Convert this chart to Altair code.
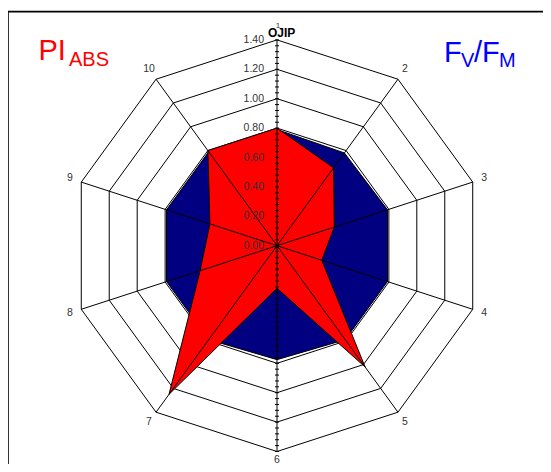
import altair as alt
import numpy as np
import pandas as pd

# ---- data ----
axis_names = ["1", "2", "3", "4", "5", "6", "7", "8", "9", "10"]
pi_abs = [0.80, 0.655, 0.41, 0.32, 1.02, 0.29, 1.25, 0.55, 0.48, 0.80]
fv_fm = [0.79, 0.78, 0.79, 0.79, 0.79, 0.775, 0.79, 0.79, 0.79, 0.79]
ring_levels = [0.2, 0.4, 0.6, 0.8, 1.0, 1.2, 1.4]
tick_values = [0.0, 0.2, 0.4, 0.6, 0.8, 1.0, 1.2, 1.4]
tick_labels = ["0.00", "0.20", "0.40", "0.60", "0.80", "1.00", "1.20", "1.40"]
r_max = 1.4

# ---- geometry helpers ----
K = 147.0            # pixels per unit of radius
W, H = 535, 456
CX, CY = 269.0, 237.7
xs = alt.Scale(domain=[-CX / K, (W - CX) / K], nice=False, zero=False)
ys = alt.Scale(domain=[-(H - CY) / K, CY / K], nice=False, zero=False)
n = len(axis_names)
ang = np.deg2rad(np.arange(n) * 360.0 / n)


def polygon(values):
    return pd.DataFrame({
        "idx": np.arange(n),
        "x": np.array(values) * np.sin(ang),
        "y": np.array(values) * np.cos(ang),
    })


rings_rows = []
for lv in ring_levels:
    for i in range(n + 1):
        a = ang[i % n]
        rings_rows.append({"level": lv, "idx": i, "x": lv * np.sin(a), "y": lv * np.cos(a)})
rings_df = pd.DataFrame(rings_rows)

spokes_df = pd.DataFrame({
    "x0": 0.0, "y0": 0.0,
    "x": r_max * np.sin(ang), "y": r_max * np.cos(ang),
})

lab_r = r_max + 12 / K
labels_df = pd.DataFrame({
    "name": axis_names,
    "x": lab_r * np.sin(ang),
    "y": lab_r * np.cos(ang),
})
# labels 1 (top, beside the OJIP title) and 6 (bottom edge) are placed separately
labels_df = labels_df[~labels_df["name"].isin([axis_names[0], axis_names[5]])]

minor = np.round(np.arange(-r_max, r_max + 1e-9, 0.04), 2)
minor_df = pd.DataFrame({"x": 0.0, "y": minor})

ticklab_df = pd.DataFrame({"x": 0.0, "y": tick_values, "t": tick_labels})

X = lambda f="x": alt.X(f"{f}:Q", scale=xs, axis=None)
Y = lambda f="y": alt.Y(f"{f}:Q", scale=ys, axis=None)
FONT = "Liberation Sans"

rings = alt.Chart(rings_df).mark_line(stroke="black", strokeWidth=1).encode(
    x=X(), y=Y(), detail="level:N", order="idx:Q")

blue = alt.Chart(polygon(fv_fm)).mark_line(
    interpolate="linear-closed", fill="#000080", stroke="black", strokeWidth=1
).encode(x=X(), y=Y(), order="idx:Q")

red = alt.Chart(polygon(pi_abs)).mark_line(
    interpolate="linear-closed", fill="#ff0000", stroke="black", strokeWidth=1
).encode(x=X(), y=Y(), order="idx:Q")

spokes = alt.Chart(spokes_df).mark_rule(stroke="black", strokeWidth=1).encode(
    x=X("x0"), y=Y("y0"), x2="x:Q", y2="y:Q")

minor_ticks = alt.Chart(minor_df).mark_point(
    shape="M-1,0L1,0", size=16, filled=False, stroke="black", strokeWidth=1, opacity=1
).encode(x=X(), y=Y())

center = alt.Chart(pd.DataFrame({"x": [0.0], "y": [0.0]})).mark_point(
    filled=True, color="black", size=14, opacity=1).encode(x=X(), y=Y())

tick_text = alt.Chart(ticklab_df).mark_text(
    align="right", baseline="middle", dx=-13, fontSize=10.5, font=FONT, color="#333333"
).encode(x=X(), y=Y(), text="t:N")

axis_text = alt.Chart(labels_df).mark_text(
    align="center", baseline="middle", fontSize=10.5, font=FONT, color="#333333"
).encode(x=X(), y=Y(), text="name:N")

one = pd.DataFrame({"a": [0]})


def txt(s, x, y, size, color, weight="normal", align="left", baseline="alphabetic"):
    return alt.Chart(one).mark_text(
        text=s, align=align, baseline=baseline, fontSize=size, font=FONT,
        color=color, fontWeight=weight
    ).encode(x=alt.value(x), y=alt.value(y))


ojip = txt("OJIP", 273.7, 28.5, 12, "black", weight="bold", align="center")
lab1 = txt(axis_names[0], 270, 19.5, 8, "#333333", align="center")
lab6 = txt(axis_names[5], 269, 455, 10.5, "#333333", align="center")

pi1 = txt("PI", 30.5, 52, 29, "#ff0000")
pi2 = txt("ABS", 61, 58, 20, "#ff0000")
f1 = txt("F", 436, 54.3, 29, "#0000ff")
f2 = txt("V", 453, 58.7, 20, "#0000ff")
f3 = txt("/F", 466, 54.3, 29, "#0000ff")
f4 = txt("M", 491, 58.7, 20, "#0000ff")

frame_top = alt.Chart(one).mark_rule(color="black", strokeWidth=1.6).encode(
    x=alt.value(0), x2=alt.value(W), y=alt.value(3.6))
frame_left = alt.Chart(one).mark_rule(color="black", strokeWidth=1.6).encode(
    x=alt.value(0), y=alt.value(3), y2=alt.value(H))

chart = alt.layer(
    rings, blue, red, spokes, minor_ticks, center, tick_text, axis_text,
    ojip, lab1, lab6, pi1, pi2, f1, f2, f3, f4, frame_top, frame_left
).properties(
    width=W, height=H, padding=0, autosize=alt.AutoSizeParams(type="none")
).configure_view(stroke=None)

chart.save("out.html", embed_options={"renderer": "svg", "actions": False})
